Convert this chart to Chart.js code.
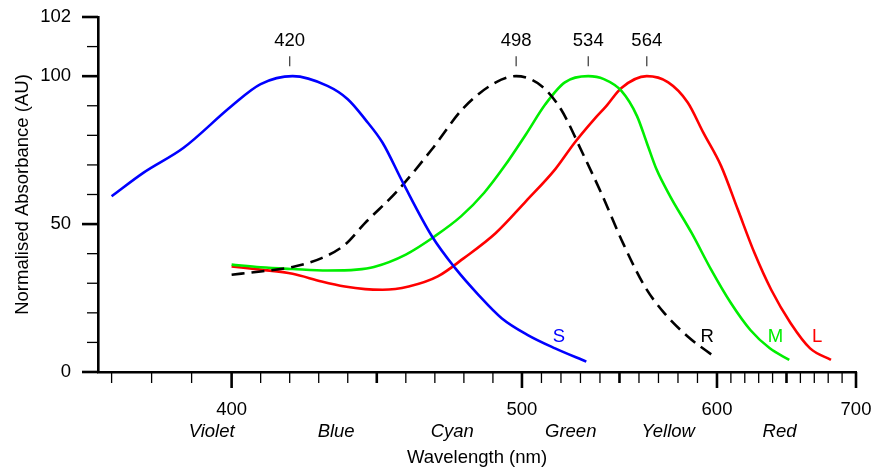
<!DOCTYPE html>
<html>
<head>
<meta charset="utf-8">
<title>Cone absorbance</title>
<script src="https://cdn.jsdelivr.net/npm/chart.js@4.4.1/dist/chart.umd.min.js"></script>
<style>
  html, body { margin: 0; padding: 0; background: #fff; }
  #wrap { width: 874px; height: 469px; }
</style>
</head>
<body>
<div id="wrap"><canvas id="cones"></canvas></div>
<script>
// Wavelength (nm) / normalised absorbance
const sWave = [370, 378, 388, 400, 410, 421, 433, 440, 446, 452, 459, 469, 477, 485, 493, 503, 517, 533];
const sAbs  = [59.4, 67.4, 75.8, 89.9, 97.3, 100, 96.7, 92.2, 85.4, 77.5, 64, 45.9, 35.1, 26.1, 18.2, 12.5, 8, 3.5];

const rWave = [400, 410, 421, 431, 439, 446, 457, 469, 480, 491, 498, 510, 520, 531, 541, 552, 563, 573, 585, 599];
const rAbs  = [32.9, 34, 35.5, 38.5, 43, 50.4, 61.1, 75.3, 89.4, 97.9, 100, 96.7, 88.8, 74.1, 60, 43.3, 28.9, 19.9, 12, 5];

const mWave = [400, 410, 421, 433, 443, 449, 460, 470, 479, 487, 494, 502, 512, 522, 534, 542, 551, 559, 564, 569, 576, 587, 597, 610, 624, 638, 652];
const mAbs  = [36.3, 35.4, 34.8, 34.3, 34.6, 35.5, 39.7, 45.9, 52.6, 60.6, 69.6, 80.3, 90.5, 97.9, 100, 99, 95, 86.5, 77.5, 68.5, 59.4, 47, 34.6, 23.3, 14.2, 8, 4.1];

const lWave = [400, 410, 421, 431, 439, 446, 452, 461, 471, 480, 491, 502, 517, 527, 537, 543, 551, 564, 575, 585, 593, 603, 615, 627, 639, 653, 667, 682];
const lAbs  = [35.7, 34.6, 33.2, 30.6, 28.9, 28, 27.8, 28.9, 32.3, 38.5, 47, 57.7, 68.5, 77.5, 85.4, 89.7, 96, 100, 97.9, 91.1, 80.9, 69.6, 54.9, 40.2, 27.8, 16.5, 8, 4.1];

const seriesNames = ['S', 'R', 'M', 'L'];
const peakWaves = [420, 498, 534, 564];

// tick labels
const xTickLabels = [400, 500, 600, 700];
const xMidTicks = [450, 550, 650];
const bandNames = ['Violet', 'Blue', 'Cyan', 'Green', 'Yellow', 'Red'];
const bandCenters = [395, 436, 476, 525, 575, 645];
const yTickValues = [0, 50, 100, 120];
const yTickLabels = ['0', '50', '100', '102'];

const FONT = "'Liberation Sans', Arial, sans-serif";
const FS = 18.5;
const X_MIN = 366.6, X_MAX = 700;

// the wavelength axis is stretched piecewise (roughly 1/λ), linear within each 100 nm
const AXIS_BREAKS = [[300, -400], [400, 0], [500, 290.3], [600, 485.3], [700, 624.3]];

function warp(v) {
  let i = 1;
  while (i < AXIS_BREAKS.length - 1 && v > AXIS_BREAKS[i][0]) i++;
  const [a0, p0] = AXIS_BREAKS[i - 1], [a1, p1] = AXIS_BREAKS[i];
  return p0 + (v - a0) * (p1 - p0) / (a1 - a0);
}

function unwarp(p) {
  let i = 1;
  while (i < AXIS_BREAKS.length - 1 && p > AXIS_BREAKS[i][1]) i++;
  const [a0, p0] = AXIS_BREAKS[i - 1], [a1, p1] = AXIS_BREAKS[i];
  return a0 + (p - p0) * (a1 - a0) / (p1 - p0);
}

class SpectrumScale extends Chart.LinearScale {
  configure() {
    super.configure();
    this._wMin = warp(this.min);
    this._wMax = warp(this.max);
  }
  getPixelForValue(value) {
    if (value === null || value === undefined || isNaN(value)) return NaN;
    return this.getPixelForDecimal((warp(value) - this._wMin) / (this._wMax - this._wMin));
  }
  getValueForPixel(pixel) {
    return unwarp(this._wMin + this.getDecimalForPixel(pixel) * (this._wMax - this._wMin));
  }
}
SpectrumScale.id = 'spectrum';
SpectrumScale.defaults = Chart.LinearScale.defaults;
Chart.register(SpectrumScale);

function pts(xs, ys) {
  return xs.map((x, i) => ({ x: x, y: ys[i] }));
}

// fixed axis sizes; drop the label overflow padding so the plot box stays put
function fixSize(w, h) {
  return (scale) => {
    if (w) scale.width = w;
    if (h) scale.height = h;
    scale.paddingTop = 0;
    scale.paddingBottom = 0;
    scale.paddingLeft = 0;
    scale.paddingRight = 0;
  };
}

// tick marks of different lengths (Chart.js has one tickLength per axis)
const axisTicks = {
  id: 'axisTicks',
  afterDraw(chart) {
    const { ctx } = chart;
    const xs = chart.scales.x, ys = chart.scales.y;
    ctx.save();
    ctx.strokeStyle = '#000';
    xs.ticks.forEach((t) => {
      const px = xs.getPixelForValue(t.value);
      const big = xTickLabels.includes(t.value);
      const mid = xMidTicks.includes(t.value);
      ctx.lineWidth = (big || mid) ? 2.6 : 1.3;
      ctx.beginPath();
      ctx.moveTo(px, xs.top);
      ctx.lineTo(px, xs.top + (big ? 16 : 11));
      ctx.stroke();
    });
    ys.ticks.forEach((t) => {
      const py = ys.getPixelForValue(t.value);
      const big = yTickValues.includes(t.value);
      ctx.lineWidth = big ? 2.6 : 1.3;
      ctx.beginPath();
      ctx.moveTo(ys.right, py);
      ctx.lineTo(ys.right - (big ? 16 : 11), py);
      ctx.stroke();
    });
    ctx.restore();
  }
};

// peak wavelengths above the curves and the curve names near their tails
const curveLabelAt = [[519, 12], [595, 12], [642, 12], [672, 12]];
const curveColors = ['#0000ff', '#000000', '#00ee00', '#ff0000'];

const annotations = {
  id: 'annotations',
  afterDatasetsDraw(chart) {
    const { ctx } = chart;
    const xs = chart.scales.x, ys = chart.scales.y;
    const top = ys.getPixelForValue(100);
    ctx.save();
    ctx.font = FS + 'px ' + FONT;
    ctx.textAlign = 'center';
    ctx.textBaseline = 'middle';
    peakWaves.forEach((w) => {
      const px = xs.getPixelForValue(w);
      ctx.fillStyle = '#000';
      ctx.fillText(String(w), px, top - 35);
      ctx.strokeStyle = '#444';
      ctx.lineWidth = 1.3;
      ctx.beginPath();
      ctx.moveTo(px, top - 20);
      ctx.lineTo(px, top - 10);
      ctx.stroke();
    });
    seriesNames.forEach((n, i) => {
      ctx.fillStyle = curveColors[i];
      ctx.fillText(n, xs.getPixelForValue(curveLabelAt[i][0]), ys.getPixelForValue(curveLabelAt[i][1]));
    });
    ctx.restore();
  }
};

const lineStyle = {
  pointRadius: 0,
  borderWidth: 2.6,
  cubicInterpolationMode: 'monotone',
  fill: false,
};

const xTicks = [];
for (let v = 370; v <= 700; v += 10) xTicks.push(v);
const yTicks = [];
for (let v = 0; v <= 120; v += 10) yTicks.push(v);

new Chart(document.getElementById('cones'), {
  type: 'line',
  data: {
    datasets: [
      { label: seriesNames[0], data: pts(sWave, sAbs), borderColor: curveColors[0], ...lineStyle },
      { label: seriesNames[1], data: pts(rWave, rAbs), borderColor: curveColors[1], borderDash: [13, 7], ...lineStyle },
      { label: seriesNames[2], data: pts(mWave, mAbs), borderColor: curveColors[2], ...lineStyle },
      { label: seriesNames[3], data: pts(lWave, lAbs), borderColor: curveColors[3], ...lineStyle },
    ]
  },
  options: {
    responsive: true,
    maintainAspectRatio: false,
    animation: false,
    layout: { padding: { top: 17, right: 18, left: 0, bottom: 0 } },
    plugins: {
      legend: { display: false },
      tooltip: { enabled: false },
    },
    scales: {
      x: {
        type: 'spectrum',
        position: 'bottom',
        weight: 0,
        min: X_MIN,
        max: X_MAX,
        grid: { display: false, drawTicks: false },
        border: { display: true, color: '#000', width: 2.6 },
        afterBuildTicks(scale) {
          scale.ticks = xTicks.map((v) => ({ value: v }));
        },
        afterFit: fixSize(0, 44),
        ticks: {
          autoSkip: false,
          maxRotation: 0,
          padding: 27,
          color: '#000',
          font: { family: FONT, size: FS },
          callback: (v) => (xTickLabels.includes(v) ? String(v) : ''),
        },
      },
      x2: {
        type: 'spectrum',
        position: 'bottom',
        weight: 1,
        min: X_MIN,
        max: X_MAX,
        grid: { display: false, drawTicks: false },
        border: { display: false },
        afterBuildTicks(scale) {
          scale.ticks = bandCenters.map((v) => ({ value: v }));
        },
        afterFit: fixSize(0, 53),
        ticks: {
          autoSkip: false,
          maxRotation: 0,
          padding: 5,
          color: '#000',
          font: { family: FONT, size: FS, style: 'italic' },
          callback: (v, i) => bandNames[i],
        },
        title: {
          display: true,
          text: 'Wavelength (nm)',
          color: '#000',
          font: { family: FONT, size: FS },
          padding: { top: 0, bottom: 0 },
        },
      },
      y: {
        type: 'linear',
        min: 0,
        max: 120,
        grid: { display: false, drawTicks: false },
        border: { display: true, color: '#000', width: 2.6 },
        afterBuildTicks(scale) {
          scale.ticks = yTicks.map((v) => ({ value: v }));
        },
        afterFit: fixSize(98, 0),
        ticks: {
          autoSkip: false,
          padding: 27,
          color: '#000',
          font: { family: FONT, size: FS },
          callback: (v) => {
            const i = yTickValues.indexOf(v);
            return i >= 0 ? yTickLabels[i] : '';
          },
        },
        title: {
          display: true,
          text: 'Normalised Absorbance (AU)',
          color: '#000',
          font: { family: FONT, size: FS },
          padding: { top: 12, bottom: 0 },
        },
      },
    },
  },
  plugins: [axisTicks, annotations],
});
</script>
</body>
</html>
